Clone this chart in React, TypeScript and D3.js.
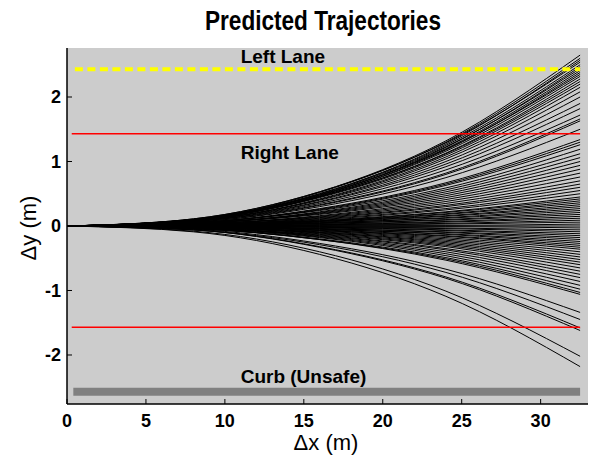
import React from "react";
import * as d3 from "d3";

// x positions (m) where each predicted trajectory was sampled
const DX = [0, 8, 16, 24, 32.5];

// lateral offset (m) of each trajectory at the DX samples, top to bottom
const TRAJ: number[][] = [
  [0, 0.11, 0.53, 1.32, 2.65],
  [0, 0.1, 0.52, 1.3, 2.6],
  [0, 0.1, 0.5, 1.27, 2.57],
  [0, 0.11, 0.53, 1.29, 2.54],
  [0, 0.1, 0.5, 1.25, 2.5],
  [0, 0.09, 0.47, 1.22, 2.47],
  [0, 0.1, 0.49, 1.23, 2.44],
  [0, 0.1, 0.48, 1.2, 2.41],
  [0, 0.09, 0.46, 1.18, 2.38],
  [0, 0.1, 0.48, 1.19, 2.35],
  [0, 0.09, 0.46, 1.16, 2.32],
  [0, 0.09, 0.45, 1.13, 2.28],
  [0, 0.09, 0.45, 1.12, 2.24],
  [0, 0.09, 0.44, 1.1, 2.2],
  [0, 0.08, 0.42, 1.07, 2.15],
  [0, 0.08, 0.41, 1.04, 2.08],
  [0, 0.08, 0.4, 1.0, 2.0],
  [0, 0.08, 0.38, 0.96, 1.9],
  [0, 0.07, 0.37, 0.92, 1.82],
  [0, 0.07, 0.35, 0.87, 1.72],
  [0, 0.07, 0.33, 0.82, 1.66],
  [0, 0.06, 0.32, 0.8, 1.63],
  [0, 0.06, 0.3, 0.75, 1.5],
  [0, 0.05, 0.27, 0.67, 1.34],
  [0, 0.05, 0.26, 0.65, 1.3],
  [0, 0.05, 0.25, 0.63, 1.26],
  [0, 0.05, 0.24, 0.59, 1.19],
  [0, 0.04, 0.22, 0.56, 1.12],
  [0, 0.04, 0.21, 0.53, 1.06],
  [0, 0.04, 0.2, 0.5, 1.0],
  [0, 0.04, 0.19, 0.47, 0.94],
  [0, 0.04, 0.18, 0.44, 0.88],
  [0, 0.03, 0.16, 0.41, 0.82],
  [0, 0.03, 0.15, 0.38, 0.76],
  [0, 0.03, 0.14, 0.35, 0.7],
  [0, 0.03, 0.13, 0.32, 0.65],
  [0, 0.02, 0.12, 0.3, 0.6],
  [0, 0.02, 0.11, 0.27, 0.55],
  [0, 0.02, 0.1, 0.25, 0.5],
  [0, 0.02, 0.09, 0.22, 0.45],
  [0, 0.02, 0.08, 0.21, 0.42],
  [0, 0.02, 0.08, 0.19, 0.39],
  [0, 0.01, 0.07, 0.18, 0.36],
  [0, 0.01, 0.07, 0.16, 0.33],
  [0, 0.01, 0.06, 0.15, 0.3],
  [0, 0.01, 0.05, 0.13, 0.27],
  [0, 0.01, 0.05, 0.12, 0.24],
  [0, 0.01, 0.04, 0.1, 0.21],
  [0, 0.01, 0.04, 0.09, 0.18],
  [0, 0.01, 0.03, 0.07, 0.15],
  [0, 0, 0.02, 0.06, 0.12],
  [0, 0, 0.02, 0.04, 0.09],
  [0, 0, 0.01, 0.03, 0.06],
  [0, 0, 0.01, 0.01, 0.03],
  [0, 0, 0, 0, 0],
  [0, 0, -0.01, -0.01, -0.03],
  [0, 0, -0.01, -0.03, -0.06],
  [0, 0, -0.02, -0.04, -0.09],
  [0, 0, -0.02, -0.06, -0.12],
  [0, -0.01, -0.03, -0.07, -0.15],
  [0, -0.01, -0.04, -0.09, -0.18],
  [0, -0.01, -0.04, -0.1, -0.21],
  [0, -0.01, -0.05, -0.12, -0.24],
  [0, -0.01, -0.05, -0.13, -0.27],
  [0, -0.01, -0.06, -0.15, -0.3],
  [0, -0.01, -0.07, -0.16, -0.33],
  [0, -0.01, -0.07, -0.18, -0.36],
  [0, -0.02, -0.08, -0.2, -0.4],
  [0, -0.02, -0.09, -0.22, -0.44],
  [0, -0.02, -0.1, -0.24, -0.48],
  [0, -0.02, -0.1, -0.26, -0.52],
  [0, -0.02, -0.11, -0.28, -0.56],
  [0, -0.02, -0.12, -0.3, -0.6],
  [0, -0.03, -0.13, -0.32, -0.65],
  [0, -0.03, -0.14, -0.35, -0.7],
  [0, -0.03, -0.15, -0.37, -0.75],
  [0, -0.03, -0.16, -0.4, -0.8],
  [0, -0.03, -0.17, -0.43, -0.86],
  [0, -0.04, -0.18, -0.46, -0.92],
  [0, -0.04, -0.2, -0.49, -0.98],
  [0, -0.04, -0.21, -0.51, -1.03],
  [0, -0.04, -0.21, -0.53, -1.06],
  [0, -0.05, -0.27, -0.67, -1.34],
  [0, -0.06, -0.29, -0.72, -1.45],
  [0, -0.06, -0.32, -0.79, -1.58],
  [0, -0.06, -0.33, -0.81, -1.62],
  [0, -0.08, -0.4, -1.01, -2.02],
  [0, -0.09, -0.44, -1.09, -2.18],
];

// lane markings: [x start, x end, y]
const LEFT_LANE = [0.5, 32.5, 2.43];
const RIGHT_LANE_TOP = [0.3, 32.5, 1.43];
const RIGHT_LANE_BOTTOM = [0.3, 32.5, -1.57];
const CURB = [0.4, 32.5, -2.57];

const LABELS = [
  { text: "Left Lane", x: 11, y: 2.63 },
  { text: "Right Lane", x: 11, y: 1.15 },
  { text: "Curb (Unsafe)", x: 11, y: -2.33 },
];

const X_TICKS = [0, 5, 10, 15, 20, 25, 30];
const Y_TICKS = [-2, -1, 0, 1, 2];

const W = 597;
const H = 457;
const margin = { top: 48, right: 9, bottom: 53, left: 67 };
const FONT = "'Liberation Sans', Arial, sans-serif";

const App = () => {
  const width = W - margin.left - margin.right;
  const height = H - margin.top - margin.bottom;

  const xScale = d3.scaleLinear().domain([0, 33]).range([0, width]);
  const yScale = d3.scaleLinear().domain([-2.76, 2.76]).range([height, 0]);

  const line = d3
    .line<number>()
    .x((_, i) => xScale(DX[i]))
    .y((d) => yScale(d))
    .curve(d3.curveMonotoneX);

  const hline = (seg: number[]) => ({
    x1: xScale(seg[0]),
    x2: xScale(seg[1]),
    y1: yScale(seg[2]),
    y2: yScale(seg[2]),
  });

  return (
    <svg
      width={W}
      height={H}
      style={{ position: "absolute", left: 0, top: 0, background: "white" }}
      fontFamily={FONT}
    >
      <text
        x={323}
        y={30}
        textAnchor="middle"
        fontSize={27}
        fontWeight="bold"
        textLength={236}
        lengthAdjust="spacingAndGlyphs"
      >
        Predicted Trajectories
      </text>

      <g transform={`translate(${margin.left},${margin.top})`}>
        <rect x={0} y={0} width={width} height={height} fill="#cccccc" />

        {/* trajectories */}
        {TRAJ.map((t, i) => (
          <path
            key={i}
            d={line(t) || ""}
            fill="none"
            stroke="black"
            strokeWidth={1}
          />
        ))}

        {/* lane markings */}
        <line {...hline(LEFT_LANE)} stroke="#ffff00" strokeWidth={4} strokeDasharray="8,4.5" />
        <line {...hline(RIGHT_LANE_TOP)} stroke="#ff0000" strokeWidth={1.6} />
        <line {...hline(RIGHT_LANE_BOTTOM)} stroke="#ff0000" strokeWidth={1.6} />
        <line {...hline(CURB)} stroke="#808080" strokeWidth={8} />

        {LABELS.map((l) => (
          <text
            key={l.text}
            x={xScale(l.x)}
            y={yScale(l.y)}
            dy="0.36em"
            fontSize={19}
            fontWeight="bold"
          >
            {l.text}
          </text>
        ))}

        {/* axes */}
        <line x1={0} x2={0} y1={0} y2={height} stroke="black" strokeWidth={1.5} />
        <line x1={0} x2={width} y1={height} y2={height} stroke="black" strokeWidth={1.5} />

        {Y_TICKS.map((t) => (
          <g key={t} transform={`translate(0,${yScale(t)})`}>
            <line x1={0} x2={5} stroke="black" strokeWidth={1} />
            <text x={-6} dy="0.36em" textAnchor="end" fontSize={18} fontWeight="bold">
              {t}
            </text>
          </g>
        ))}

        {X_TICKS.map((t) => (
          <g key={t} transform={`translate(${xScale(t)},${height})`}>
            <line y1={0} y2={-5} stroke="black" strokeWidth={1} />
            <text y={23} textAnchor="middle" fontSize={18} fontWeight="bold">
              {t}
            </text>
          </g>
        ))}
      </g>

      <text x={326} y={450} textAnchor="middle" fontSize={22}>
        Δx (m)
      </text>
      <text
        transform="translate(36,228) rotate(-90)"
        textAnchor="middle"
        fontSize={22}
      >
        Δy (m)
      </text>
    </svg>
  );
};

export default App;
